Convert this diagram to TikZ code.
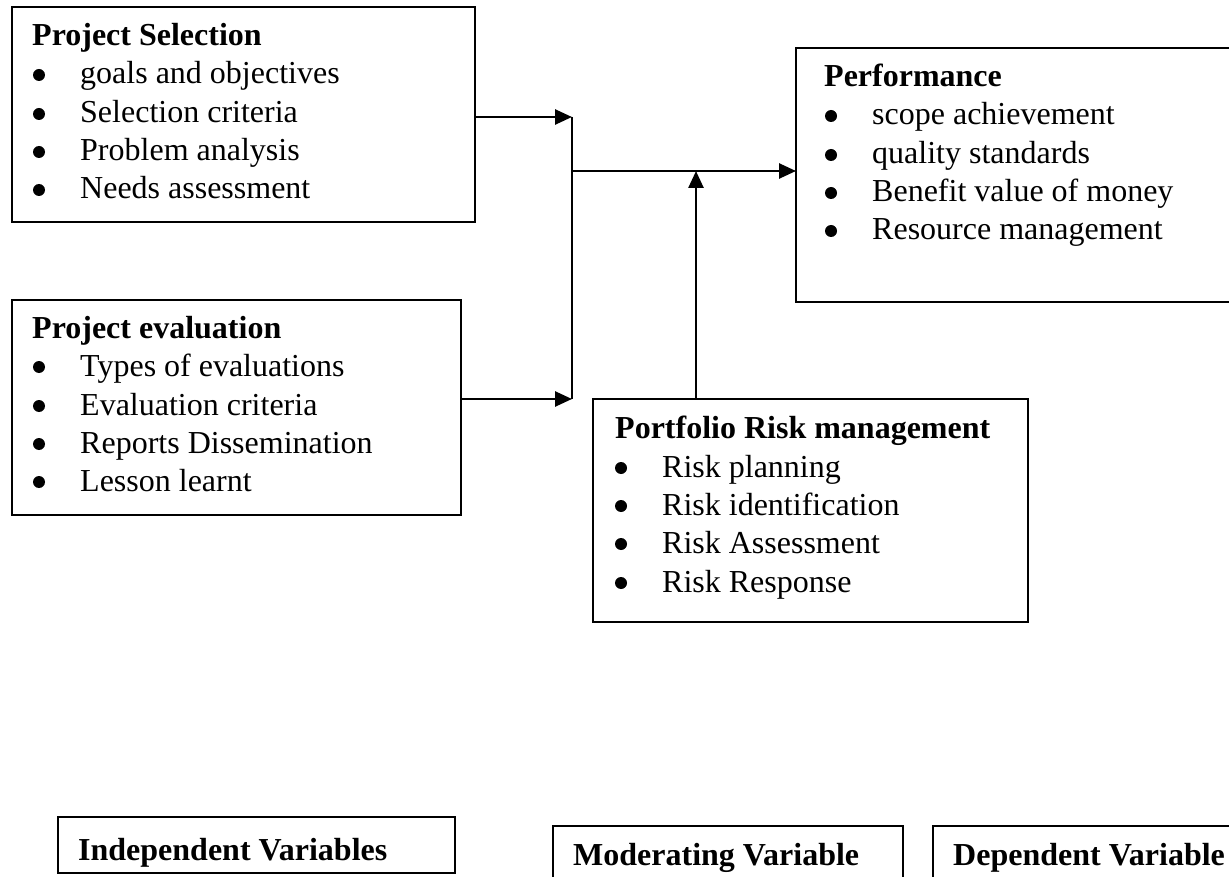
\documentclass[tikz,border=0pt]{standalone}
\usepackage{fontspec}
\setmainfont{Liberation Serif}
\usetikzlibrary{arrows.meta}
\begin{document}
\begin{tikzpicture}[x=1pt,y=-1pt,
  font=\fontsize{32}{38}\selectfont,
  boxn/.style={draw, line width=1.3pt, anchor=north west, inner sep=0pt, outer sep=0pt},
  vbox/.style={draw, line width=1.7pt, anchor=north west, inner sep=0pt, outer sep=0pt},
  ttl/.style={anchor=base west, inner sep=0pt, font=\fontsize{32}{38}\selectfont\bfseries},
  itm/.style={anchor=base west, inner sep=0pt},
  bul/.style={circle, fill=black, inner sep=0pt, minimum size=12pt, yshift=9pt},
  arr/.style={line width=2.6pt, -{Triangle[length=17pt,width=15pt]}},
  thinln/.style={line width=1.4pt}]
\useasboundingbox (0,0) rectangle (1229,877);

% Project Selection
\node[boxn, minimum width=463pt, minimum height=215pt] (ps) at (12,7) {};
\node[ttl] (pst) at (32,46) {Project Selection};
\node[bul] (psb1) at (39,84) {};  \node[itm] (psi1) at (80,84) {goals and objectives};
\node[bul] (psb2) at (39,123) {}; \node[itm] (psi2) at (80,123) {Selection criteria};
\node[bul] (psb3) at (39,161) {}; \node[itm] (psi3) at (80,161) {Problem analysis};
\node[bul] (psb4) at (39,199) {}; \node[itm] (psi4) at (80,199) {Needs assessment};

% Project evaluation
\node[boxn, minimum width=449pt, minimum height=215pt] (pe) at (12,300) {};
\node[ttl] (pet) at (32,338) {Project evaluation};
\node[bul] (peb1) at (39,376) {}; \node[itm] (pei1) at (80,376) {Types of evaluations};
\node[bul] (peb2) at (39,415) {}; \node[itm] (pei2) at (80,415) {Evaluation criteria};
\node[bul] (peb3) at (39,453) {}; \node[itm] (pei3) at (80,453) {Reports Dissemination};
\node[bul] (peb4) at (39,491) {}; \node[itm] (pei4) at (80,491) {Lesson learnt};

% Performance
\node[boxn, minimum width=450pt, minimum height=254pt] (pf) at (796,48) {};
\node[ttl] (pft) at (824,87) {Performance};
\node[bul] (pfb1) at (831,125) {}; \node[itm] (pfi1) at (872,125) {scope achievement};
\node[bul] (pfb2) at (831,164) {}; \node[itm] (pfi2) at (872,164) {quality standards};
\node[bul] (pfb3) at (831,202) {}; \node[itm] (pfi3) at (872,202) {Benefit value of money};
\node[bul] (pfb4) at (831,240) {}; \node[itm] (pfi4) at (872,240) {Resource management};

% Portfolio Risk management
\node[boxn, minimum width=435pt, minimum height=223pt] (rk) at (593,399) {};
\node[ttl] (rkt) at (615,438) {Portfolio Risk management};
\node[bul] (rkb1) at (621,477) {}; \node[itm] (rki1) at (662,477) {Risk planning};
\node[bul] (rkb2) at (621,515) {}; \node[itm] (rki2) at (662,515) {Risk identification};
\node[bul] (rkb3) at (621,553) {}; \node[itm] (rki3) at (662,553) {Risk Assessment};
\node[bul] (rkb4) at (621,592) {}; \node[itm] (rki4) at (662,592) {Risk Response};

% connectors
\coordinate (j1) at (572,117);
\coordinate (j2) at (572,399);
\coordinate (j3) at (572,171);
\coordinate (up) at (696,399);
\draw[arr] (ps.east |- j1) -- (j1);
\draw[arr] (pe.east |- j2) -- (j2);
\draw[thinln] (j1) -- (j2);
\draw[arr] (j3) -- (pf.west |- j3);
\draw[arr] (up) -- (up |- j3);

% legend boxes
\node[vbox, minimum width=397pt, minimum height=56pt] (iv) at (58,817) {};
\node[ttl] (ivt) at (78,860) {Independent Variables};
\node[vbox, minimum width=350pt, minimum height=70pt] (mv) at (553,826) {};
\node[ttl] (mvt) at (573,865) {Moderating Variable};
\node[vbox, minimum width=320pt, minimum height=70pt] (dv) at (933,826) {};
\node[ttl] (dvt) at (953,865) {Dependent Variable};
\end{tikzpicture}
\end{document}
